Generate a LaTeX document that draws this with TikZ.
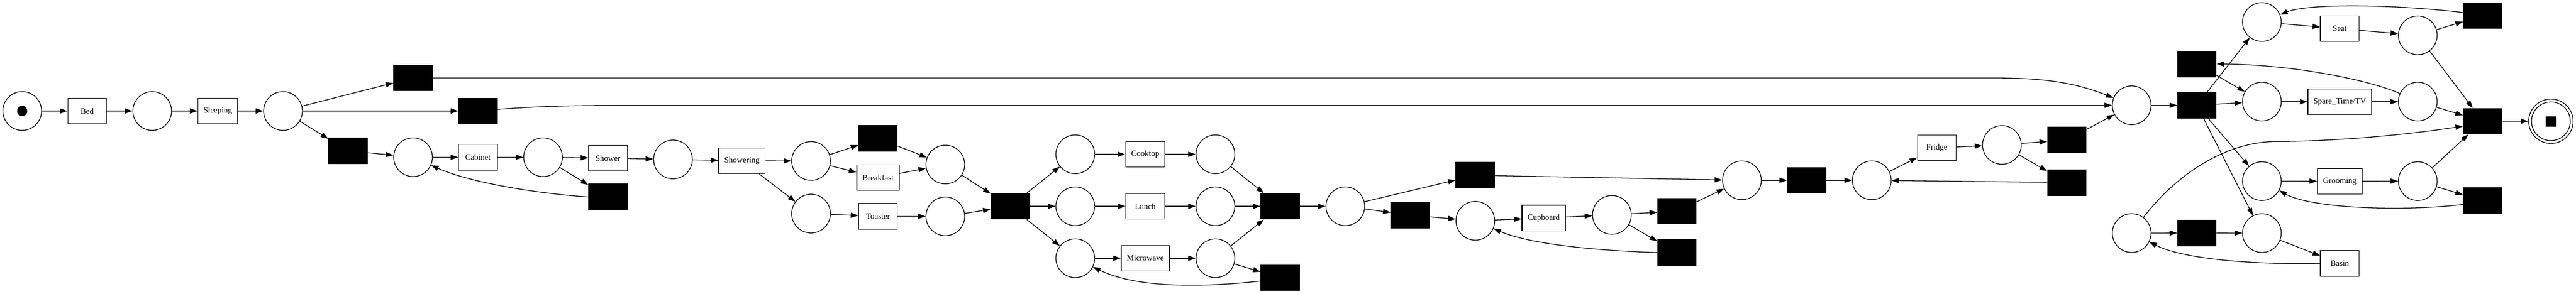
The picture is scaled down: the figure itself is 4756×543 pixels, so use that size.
\documentclass[tikz,border=0pt]{standalone}
\usepackage{fontspec}
\setmainfont{Liberation Serif}
\usetikzlibrary{arrows.meta}
\begin{document}
\begin{tikzpicture}[x=1pt,y=-1pt,
  every node/.style={font=\fontsize{15}{18}\selectfont},
  placenode/.style={circle,draw,line width=1.3pt,minimum size=71.5pt,inner sep=0pt},
  transnode/.style={rectangle,draw,fill=black,line width=1.3pt,minimum width=71.5pt,minimum height=47.5pt,inner sep=0pt},
  labnode/.style={rectangle,draw,line width=1.3pt,minimum width=71.5pt,minimum height=47.5pt,inner xsep=10.4pt,inner ysep=0pt},
  flow/.style={line width=1.3pt,-{Triangle[length=14pt,width=9.5pt]}},
]
\useasboundingbox (0,0) rectangle (4756,543);
% nodes
\node[placenode] (src) at (41,205) {};
\node[circle,fill=black,minimum size=19pt,inner sep=0pt] (tok) at (src) {};
\node[labnode] (bed) at (161,205) {Bed};
\node[placenode] (p1) at (281,205) {};
\node[labnode] (sleeping) at (402,205) {Sleeping};
\node[placenode] (p2) at (522.5,205) {};
\node[transnode] (t1) at (762.5,144) {};
\node[transnode] (t2) at (882.5,205) {};
\node[transnode] (t3) at (642.5,278.5) {};
\node[placenode] (p3) at (762.6,290.4) {};
\node[labnode] (cabinet) at (882.4,290.5) {Cabinet};
\node[placenode] (p4) at (1002.6,290.4) {};
\node[labnode] (shower) at (1122.5,292) {Shower};
\node[transnode] (t4) at (1122.5,363.8) {};
\node[placenode] (p5) at (1242.5,294.5) {};
\node[labnode] (showering) at (1369.8,297) {Showering};
\node[placenode] (p6) at (1497.4,297.3) {};
\node[placenode] (p7) at (1497.4,394.5) {};
\node[transnode] (t5) at (1621,255.8) {};
\node[labnode] (breakfast) at (1621,328) {Breakfast};
\node[labnode] (toaster) at (1621,399.6) {Toaster};
\node[placenode] (p8) at (1745.3,303.9) {};
\node[placenode] (p9) at (1745.3,399.6) {};
\node[transnode] (t6) at (1865.3,381) {};
\node[placenode] (p10) at (1985.2,285) {};
\node[placenode] (p11) at (1985.2,381) {};
\node[placenode] (p12) at (1985.2,477) {};
\node[labnode] (cooktop) at (2114.4,285) {Cooktop};
\node[labnode] (lunch) at (2114.5,381) {Lunch};
\node[labnode] (microwave) at (2114.5,477) {Microwave};
\node[placenode] (p13) at (2244,285) {};
\node[placenode] (p14) at (2244,381) {};
\node[placenode] (p15) at (2244,477) {};
\node[transnode] (t7) at (2363.7,381) {};
\node[transnode] (t8) at (2363.7,513) {};
\node[placenode] (p16) at (2483.8,381) {};
\node[transnode] (t10) at (2603.8,397.4) {};
\node[transnode] (t9) at (2723.8,323.8) {};
\node[placenode] (p17) at (2723.8,407.8) {};
\node[labnode] (cupboard) at (2849.9,402.6) {Cupboard};
\node[placenode] (p18) at (2976,396.9) {};
\node[transnode] (t12) at (3095.9,390) {};
\node[transnode] (t13) at (3095.9,466.4) {};
\node[placenode] (p19) at (3216,333) {};
\node[transnode] (t11) at (3335.8,333) {};
\node[placenode] (p20) at (3455.8,333) {};
\node[labnode] (fridge) at (3576,272.9) {Fridge};
\node[placenode] (p21) at (3696,267.7) {};
\node[transnode] (t14) at (3816,258.5) {};
\node[transnode] (t15) at (3816,337.1) {};
\node[placenode] (p22) at (3935.6,194.5) {};
\node[placenode] (p27) at (3935.6,430.5) {};
\node[transnode] (t16) at (4056,194.4) {};
\node[transnode] (t17) at (4056,118.1) {};
\node[transnode] (t18) at (4056,430.3) {};
\node[placenode] (p23) at (4176,40.7) {};
\node[placenode] (p24) at (4176,187.7) {};
\node[placenode] (p25) at (4176,334.5) {};
\node[placenode] (p26) at (4176,430.5) {};
\node[labnode] (seat) at (4319.8,53) {Seat};
\node[labnode] (spare) at (4319.8,187.9) {Spare\_Time/TV};
\node[labnode] (grooming) at (4319.8,334.7) {Grooming};
\node[labnode] (basin) at (4319.8,486.4) {Basin};
\node[placenode] (p28) at (4463.8,65.3) {};
\node[placenode] (p29) at (4463.8,187.7) {};
\node[placenode] (p30) at (4463.8,334.5) {};
\node[transnode] (t19) at (4583.8,29.1) {};
\node[transnode] (t20) at (4583.8,223.9) {};
\node[transnode] (t21) at (4583.8,370.5) {};
\node[circle,draw,line width=1.3pt,minimum size=82pt,inner sep=0pt] (sink) at (4709.6,224) {};
\node[placenode] (sinkin) at (sink) {};
\node[rectangle,fill=black,minimum size=19pt,inner sep=0pt] (sinktok) at (sink) {};
% arcs
\draw[flow] (src) -- (bed);
\draw[flow] (bed) -- (p1);
\draw[flow] (p1) -- (sleeping);
\draw[flow] (sleeping) -- (p2);
\draw[flow] (p2) -- (t1);
\draw[flow] (p2) -- (t2);
\draw[flow] (p2) -- (t3);
\draw[flow] (t1.east) -- (3680,144) .. controls (3760,144) and (3824,149.5) .. (p22);
\draw[flow] ([yshift=3pt]t2.east) .. controls (1000,196) and (1050,194.5) .. (1200,194.5) -- (p22);
\draw[flow] (t3) -- (p3);
\draw[flow] (p3) -- (cabinet);
\draw[flow] (cabinet) -- (p4);
\draw[flow] (p4) -- (shower);
\draw[flow] (p4) -- (t4);
\draw[flow] (t4.west) .. controls (1000,358) and (872,339) .. (p3);
\draw[flow] (shower) -- (p5);
\draw[flow] (p5) -- (showering);
\draw[flow] (showering) -- (p6);
\draw[flow] (showering) -- (p7);
\draw[flow] (p6) -- (t5);
\draw[flow] (p6) -- (breakfast);
\draw[flow] (t5) -- (p8);
\draw[flow] (breakfast) -- (p8);
\draw[flow] (p7) -- (toaster);
\draw[flow] (toaster) -- (p9);
\draw[flow] (p8) -- (t6);
\draw[flow] (p9) -- (t6);
\draw[flow] (t6) -- (p10);
\draw[flow] (t6) -- (p11);
\draw[flow] (t6) -- (p12);
\draw[flow] (p10) -- (cooktop);
\draw[flow] (p11) -- (lunch);
\draw[flow] (p12) -- (microwave);
\draw[flow] (cooktop) -- (p13);
\draw[flow] (lunch) -- (p14);
\draw[flow] (microwave) -- (p15);
\draw[flow] (p13) -- (t7);
\draw[flow] (p14) -- (t7);
\draw[flow] (p15) -- (t7);
\draw[flow] (p15) -- (t8);
\draw[flow] ([yshift=-6pt]t8.west) .. controls (2230,530) and (2102,534) .. (p12);
\draw[flow] (t7) -- (p16);
\draw[flow] (p16) -- (t9);
\draw[flow] (p16) -- (t10);
\draw[flow] (t10) -- (p17);
\draw[flow] (p17) -- (cupboard);
\draw[flow] (cupboard) -- (p18);
\draw[flow] (p18) -- (t12);
\draw[flow] (p18) -- (t13);
\draw[flow] (t13.west) .. controls (2980,464) and (2834,455) .. (p17);
\draw[flow] (t9) -- (p19);
\draw[flow] (t12) -- (p19);
\draw[flow] (p19) -- (t11);
\draw[flow] (t11) -- (p20);
\draw[flow] (p20) -- (fridge);
\draw[flow] (fridge) -- (p21);
\draw[flow] (p21) -- (t14);
\draw[flow] (p21) -- (t15);
\draw[flow] (t15) -- (p20);
\draw[flow] (t14) -- (p22);
\draw[flow] (p22) -- (t16);
\draw[flow] (t16) -- (p23);
\draw[flow] (t16) -- (p24);
\draw[flow] (t16) -- (p25);
\draw[flow] (t16) -- (p26);
\draw[flow] (t17) -- (p24);
\draw[flow] (p29) .. controls (4385,152) and (4250,120) .. (t17.east);
\draw[flow] (p23) -- (seat);
\draw[flow] (seat) -- (p28);
\draw[flow] (p28) -- (t19);
\draw[flow] (p28) -- (t20);
\draw[flow] ([yshift=6pt]t19.west) .. controls (4420,8) and (4262,6) .. (p23);
\draw[flow] (p24) -- (spare);
\draw[flow] (spare) -- (p29);
\draw[flow] (p29) -- (t20);
\draw[flow] (p25) -- (grooming);
\draw[flow] (grooming) -- (p30);
\draw[flow] (p30) -- (t20);
\draw[flow] (p30) -- (t21);
\draw[flow] ([yshift=-7pt]t21.west) .. controls (4450,390) and (4272,387) .. (p25);
\draw[flow] (p26) -- (basin);
\draw[flow] (basin.west) .. controls (4170,489) and (4034,480) .. (p27);
\draw[flow] (p27) -- (t18);
\draw[flow] (t18) -- (p26);
\draw[flow] (p27) .. controls (4010,332) and (4100,263) .. (4200,261.4) .. controls (4320,261) and (4450,248) .. ([yshift=-9pt]t20.west);
\draw[flow] (t20) -- (sink);
\end{tikzpicture}
\end{document}
